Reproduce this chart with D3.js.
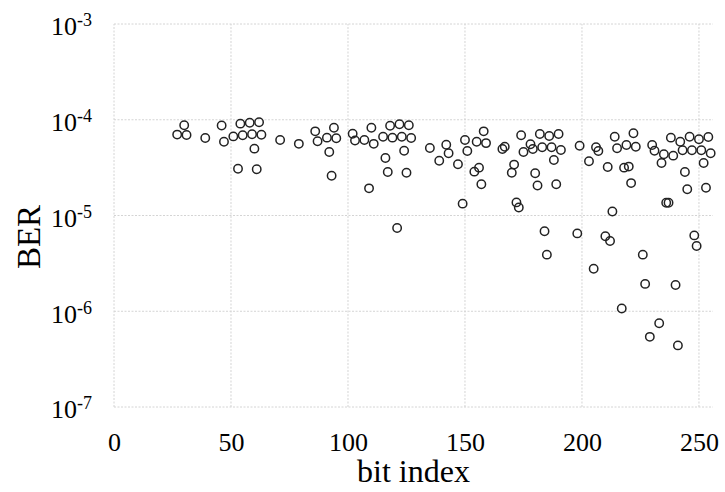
<!DOCTYPE html>
<html>
<head>
<meta charset="utf-8">
<script src="https://cdn.jsdelivr.net/npm/d3@7"></script>
<style>
  body { margin: 0; background: #fff; }
  svg text { font-family: "Liberation Serif", "Times New Roman", serif; fill: #000; }
</style>
</head>
<body>
<div id="chart"></div>
<script>
// bit index of each measured point
const bitIndex = [27, 30, 31, 39, 46, 47, 51, 53, 54, 55, 58, 59, 60, 61, 62, 63,
  71, 79, 86, 87, 91, 92, 93, 94, 95, 102, 103, 107, 109, 110, 111, 115, 116, 117,
  118, 119, 121, 122, 123, 124, 125, 126, 127, 135, 139, 142, 143, 147, 149, 150,
  151, 154, 155, 156, 157, 158, 159, 166, 167, 170, 171, 172, 173, 174, 175, 178,
  179, 180, 181, 182, 183, 184, 185, 186, 187, 188, 189, 190, 191, 198, 199, 203,
  205, 206, 207, 210, 211, 212, 213, 214, 215, 217, 218, 219, 220, 221, 222, 223,
  226, 227, 229, 230, 231, 233, 234, 235, 236, 237, 238, 239, 240, 241, 242, 243,
  244, 245, 246, 247, 248, 249, 250, 251, 252, 253, 254, 255];

// bit error rate for each bit
const berValues = [7.0e-5, 8.75e-5, 6.93e-5, 6.44e-5, 8.7e-5, 5.9e-5, 6.7e-5, 3.08e-5,
  9.1e-5, 6.9e-5, 9.3e-5, 7.05e-5, 4.99e-5, 3.04e-5, 9.4e-5, 6.98e-5,
  6.15e-5, 5.6e-5, 7.57e-5, 5.96e-5, 6.5e-5, 4.6e-5, 2.6e-5, 8.26e-5, 6.4e-5,
  7.15e-5, 6.07e-5, 6.15e-5, 1.92e-5, 8.26e-5, 5.6e-5, 6.65e-5, 3.99e-5, 2.85e-5,
  8.67e-5, 6.5e-5, 7.4e-6, 8.96e-5, 6.65e-5, 4.75e-5, 2.8e-5, 8.75e-5, 6.44e-5,
  5.07e-5, 3.73e-5, 5.48e-5, 4.47e-5, 3.43e-5, 1.33e-5, 6.15e-5,
  4.72e-5, 2.87e-5, 5.9e-5, 3.16e-5, 2.12e-5, 7.57e-5, 5.7e-5, 4.95e-5, 5.23e-5,
  2.8e-5, 3.4e-5, 1.37e-5, 1.21e-5, 6.9e-5, 4.6e-5, 5.55e-5,
  4.95e-5, 2.76e-5, 2.06e-5, 7.1e-5, 5.16e-5, 6.84e-6, 3.9e-6, 6.76e-5, 5.16e-5,
  3.8e-5, 2.12e-5, 7.1e-5, 4.83e-5, 6.5e-6, 5.36e-5, 3.68e-5,
  2.78e-6, 5.16e-5, 4.72e-5, 6.07e-6, 3.21e-5, 5.42e-6, 1.1e-5, 6.65e-5, 5.03e-5,
  1.07e-6, 3.16e-5, 5.45e-5, 3.24e-5, 2.18e-5, 7.22e-5, 5.23e-5,
  3.9e-6, 1.93e-6, 5.4e-7, 5.45e-5, 4.75e-5, 7.5e-7, 3.53e-5, 4.36e-5, 1.36e-5,
  1.36e-5, 6.5e-5, 4.22e-5, 1.88e-6, 4.4e-7, 5.9e-5, 4.8e-5,
  2.85e-5, 1.88e-5, 6.65e-5, 4.8e-5, 6.2e-6, 4.8e-6, 6.25e-5, 4.8e-5, 3.53e-5,
  1.95e-5, 6.6e-5, 4.47e-5];

const xTicks = [0, 50, 100, 150, 200, 250];
const yTicks = [1e-7, 1e-6, 1e-5, 1e-4, 1e-3];

const width = 725, height = 492;
const margin = { top: 24, left: 114, right: 12, bottom: 85 };

const svg = d3.select("#chart").append("svg")
  .attr("width", width)
  .attr("height", height);

const x = d3.scaleLinear().domain([0, 256]).range([margin.left, width - margin.right]);
const y = d3.scaleLog().domain([1e-7, 1e-3]).range([height - margin.bottom, margin.top]);

// dotted grid
const grid = svg.append("g").attr("stroke", "#d4d4d4").attr("stroke-width", 1)
  .attr("stroke-dasharray", "2,1.5");
grid.selectAll(".gx").data(xTicks).enter().append("line")
  .attr("x1", d => x(d)).attr("x2", d => x(d))
  .attr("y1", y.range()[0]).attr("y2", y.range()[1]);
grid.selectAll(".gy").data(yTicks).enter().append("line")
  .attr("x1", x.range()[0]).attr("x2", x.range()[1])
  .attr("y1", d => y(d)).attr("y2", d => y(d));

// x axis
const xAxis = svg.append("g")
  .attr("transform", "translate(0," + y.range()[0] + ")")
  .call(d3.axisBottom(x).tickValues(xTicks).tickSize(0).tickPadding(26));
xAxis.attr("font-family", null).attr("font-size", null);
xAxis.select(".domain").remove();
xAxis.selectAll("text").style("font-size", "26px");

// y axis with 10^n labels
const yAxis = svg.append("g")
  .attr("transform", "translate(" + (x.range()[0] - 22) + ",0)")
  .call(d3.axisLeft(y).tickValues(yTicks).tickSize(0).tickFormat(""));
yAxis.attr("font-family", null).attr("font-size", null);
yAxis.select(".domain").remove();
yAxis.selectAll(".tick").each(function(d) {
  const t = d3.select(this).select("text")
    .attr("x", 0).attr("dy", "0.42em")
    .style("font-size", "26px")
    .attr("text-anchor", "end");
  t.append("tspan").text("10");
  t.append("tspan").attr("dy", "-0.5em").style("font-size", "18px")
    .text(Math.round(Math.log10(d)).toString());
});

// axis titles
svg.append("text")
  .attr("x", x(128)).attr("y", 482)
  .attr("text-anchor", "middle").style("font-size", "32px")
  .text("bit index");

svg.append("text")
  .attr("transform", "translate(40,237) rotate(-90)")
  .attr("text-anchor", "middle").style("font-size", "33px")
  .text("BER");

// points
const points = bitIndex.map((b, i) => [b, berValues[i]]);
svg.append("g").selectAll("circle").data(points).enter().append("circle")
  .attr("cx", d => x(d[0]))
  .attr("cy", d => y(d[1]))
  .attr("r", 4.2)
  .attr("fill", "none")
  .attr("stroke", "#222")
  .attr("stroke-width", 1.5);
</script>
</body>
</html>
